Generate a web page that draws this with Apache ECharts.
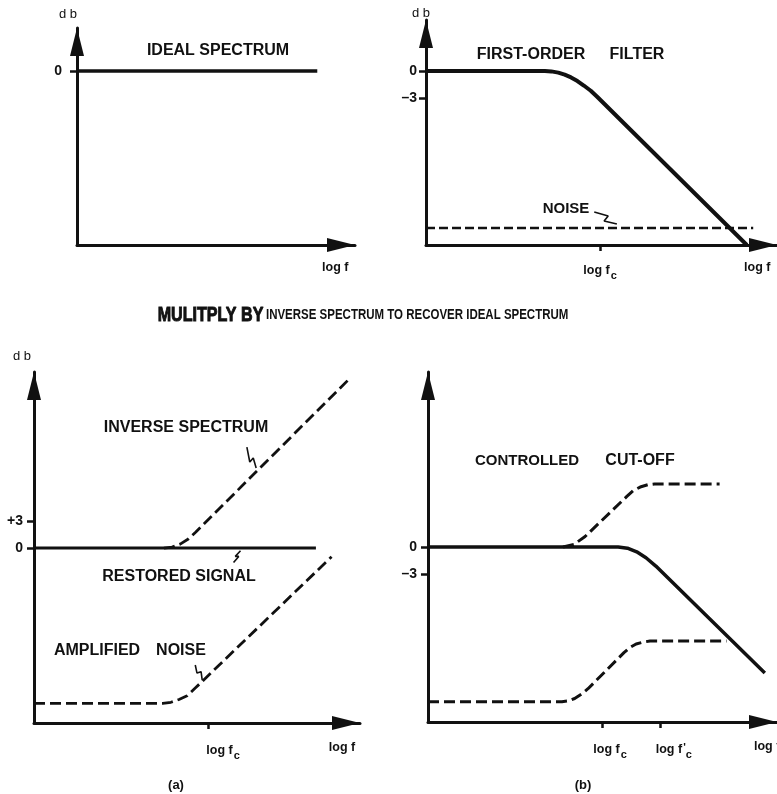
<!DOCTYPE html>
<html>
<head>
<meta charset="utf-8">
<script src="https://cdn.jsdelivr.net/npm/echarts@6/dist/echarts.min.js"></script>
<style>
  html, body { margin: 0; padding: 0; background: #fff; }
  #chart { width: 777px; height: 794px; }
</style>
</head>
<body>
<div id="chart"></div>
<script>
// x: log f (arbitrary decades, log f_c = 3, log f'_c = 4), y: level in dB

// top left: ideal spectrum
const idealSpectrum = [[0, 0], [4.14, 0]];

// top right: first-order filter and noise floor
const firstOrderFilter = [[0, 0], [2.05, 0], [2.16, -0.04], [2.28, -0.18], [2.39, -0.4], [2.5, -0.71],
                          [2.61, -1.11], [2.72, -1.61], [2.84, -2.19], [2.95, -2.86], [5.53, -19.33]];
const filterNoise = [[0, -17.44], [5.64, -17.44]];
const noisePointer = [[2.9, -15.67], [3.14, -16.11], [3.07, -16.67], [3.29, -17.0]];

// bottom left (a): full inverse
const restoredSignal = [[0, 0], [4.86, 0]];
const inverseSpectrum = [[2.24, 0], [2.38, 0.11], [2.52, 0.44], [2.66, 1.0], [2.79, 1.78], [5.45, 18.89]];
const amplifiedNoise = [[0, -17.26], [2.22, -17.26], [2.36, -17.14], [2.5, -16.83], [2.64, -16.41],
                        [2.78, -15.56], [5.13, -0.97]];
const inversePointer = [[3.67, 11.22], [3.72, 9.56], [3.78, 10.0], [3.83, 8.89]];
const restoredPointer = [[3.56, -0.3], [3.47, -0.93], [3.53, -0.93], [3.44, -1.6]];
const amplifiedPointer = [[2.78, -13.0], [2.81, -13.89], [2.88, -13.74], [2.9, -14.67]];

// bottom right (b): controlled cut-off
const controlledFilter = [[0, 0], [3.28, 0], [3.44, -0.13], [3.6, -0.53], [3.76, -1.19], [3.93, -2.12], [5.81, -14.0]];
const controlledInverse = [[2.33, 0], [2.52, 0.29], [2.71, 1.17], [3.43, 5.62], [3.54, 6.27], [3.66, 6.66],
                           [3.79, 6.91], [3.91, 7.0], [5.03, 7.0]];
const controlledNoise = [[0, -17.19], [2.31, -17.19], [2.42, -17.1], [2.53, -16.83], [2.65, -16.33], [2.76, -15.74],
                         [3.38, -11.74], [3.48, -11.18], [3.59, -10.77], [3.71, -10.57], [3.83, -10.44], [5.15, -10.44]];

// tick positions and their labels
const p1YTicks = [0];           const p1YLabels = ['0'];
const p1XLabelVals = [4.45];    const p1XLabels = ['log f'];
const p2YTicks = [0, -3];       const p2YLabels = ['0', '\u20133'];
const p2XTicks = [3];
const p2XLabelVals = [3, 5.71]; const p2XLabels = ['log f{s|c}', 'log f'];
const p3YTicks = [3, 0];        const p3YLabels = ['+3', '0'];
const p3XTicks = [3];
const p3XLabelVals = [3.26, 5.31]; const p3XLabels = ['log f{s|c}', 'log f'];
const p4YTicks = [0, -3];       const p4YLabels = ['0', '\u20133'];
const p4XTicks = [3, 4];
const p4XLabelVals = [3.14, 4.24, 5.85]; const p4XLabels = ['log f{s|c}', "log f{p|'}{t|c}", 'log f'];

const INK = '#111';
const FONT = '"Liberation Sans", Arial, Helvetica, sans-serif';

function pick(values, texts) {
  return function (v) {
    for (let i = 0; i < values.length; i++) {
      if (Math.abs(values[i] - v) < 1e-6) return texts[i];
    }
    return '';
  };
}

const axisLineStyle = {
  show: true, onZero: false,
  lineStyle: { color: INK, width: 3 },
  symbol: ['none', 'triangle'],
  symbolSize: [14, 28],
  symbolOffset: [0, -14]
};

const subRich = {
  s: { fontSize: 11, fontWeight: 'bold', fontFamily: FONT, color: INK, padding: [9, 0, 0, 1] },
  t: { fontSize: 11, fontWeight: 'bold', fontFamily: FONT, color: INK, padding: [9, 0, 0, 0] },
  p: { fontSize: 11, fontWeight: 'bold', fontFamily: FONT, color: INK, padding: [0, 0, 4, 1] }
};

function makeX(gridIndex, max, ticks, labelVals, labelTexts, margin) {
  return {
    type: 'value', gridIndex, min: 0, max,
    splitLine: { show: false },
    axisLine: axisLineStyle,
    axisTick: { show: ticks.length > 0, customValues: ticks.length ? ticks : [0], length: 6,
                lineStyle: { color: INK, width: 2.5 } },
    axisLabel: { show: true, customValues: labelVals, formatter: pick(labelVals, labelTexts),
                 margin, color: INK, fontFamily: FONT, fontWeight: 'bold', fontSize: 12.5, rich: subRich }
  };
}

function makeY(gridIndex, min, max, ticks, labelTexts, margin, name, namePad, nameGap) {
  return {
    type: 'value', gridIndex, min, max,
    splitLine: { show: false },
    axisLine: axisLineStyle,
    axisTick: { show: true, customValues: ticks, length: 7, lineStyle: { color: INK, width: 2.5 } },
    axisLabel: { show: true, customValues: ticks, formatter: pick(ticks, labelTexts),
                 margin, color: INK, fontFamily: FONT, fontWeight: 'bold', fontSize: 14 },
    name: name, nameLocation: 'end', nameGap: nameGap,
    nameTextStyle: { color: INK, fontFamily: FONT, fontSize: 13, padding: namePad }
  };
}

function curve(i, data, dashed, width, dash) {
  return {
    type: 'line', xAxisIndex: i, yAxisIndex: i, data,
    symbol: 'none', showSymbol: false, smooth: false,
    silent: true, animation: false,
    lineStyle: { color: INK, width, type: dashed ? (dash || [11, 5]) : 'solid', cap: 'butt', join: 'round' }
  };
}

function pointer(i, data) {
  return {
    type: 'line', xAxisIndex: i, yAxisIndex: i, data,
    symbol: 'none', showSymbol: false, silent: true, animation: false,
    lineStyle: { color: INK, width: 1.6 }
  };
}

function label(text, x, y, size) {
  return { type: 'text', x, y, silent: true,
           style: { text, fill: INK, fontFamily: FONT, fontWeight: 'bold', fontSize: size || 16,
                    align: 'center', verticalAlign: 'middle' } };
}

const chart = echarts.init(document.getElementById('chart'), null, { renderer: 'canvas' });

chart.setOption({
  backgroundColor: '#fff',
  animation: false,
  grid: [
    { left: 77,  top: 28,  width: 278, height: 217, outerBoundsMode: 'none' },
    { left: 426, top: 20,  width: 351, height: 225, outerBoundsMode: 'none' },
    { left: 34,  top: 372, width: 326, height: 351, outerBoundsMode: 'none' },
    { left: 428, top: 372, width: 349, height: 350, outerBoundsMode: 'none' }
  ],
  xAxis: [
    makeX(0, 4.79, [], p1XLabelVals, p1XLabels, 16),
    makeX(1, 6.05, p2XTicks, p2XLabelVals, p2XLabels, 16),
    makeX(2, 5.62, p3XTicks, p3XLabelVals, p3XLabels, 18),
    makeX(3, 6.02, p4XTicks, p4XLabelVals, p4XLabels, 18)
  ],
  yAxis: [
    makeY(0, -19.33, 4.78, p1YTicks, p1YLabels, 15, 'd b', [0, 18, 0, 0], 7),
    makeY(1, -19.33, 5.67, p2YTicks, p2YLabels, 9, 'd b', [0, 10, 0, 0], 0),
    makeY(2, -19.44, 19.56, p3YTicks, p3YLabels, 11, 'd b', [0, 24, 0, 0], 9),
    makeY(3, -19.44, 19.44, p4YTicks, p4YLabels, 11, '', [0, 0, 0, 0], 0)
  ],
  series: [
    curve(0, idealSpectrum, false, 3.5),
    curve(1, firstOrderFilter, false, 4),
    curve(1, filterNoise, true, 2.5, [9, 4]),
    pointer(1, noisePointer),
    curve(2, restoredSignal, false, 3),
    curve(2, inverseSpectrum, true, 2.8),
    curve(2, amplifiedNoise, true, 2.8),
    pointer(2, inversePointer),
    pointer(2, restoredPointer),
    pointer(2, amplifiedPointer),
    curve(3, controlledFilter, false, 3.5),
    curve(3, controlledInverse, true, 3),
    curve(3, controlledNoise, true, 3)
  ],
  graphic: [
    label('IDEAL SPECTRUM', 218, 51),
    label('FIRST-ORDER', 531, 55),
    label('FILTER', 637, 55),
    label('NOISE', 566, 209, 15),
    {
      type: 'text', x: 363, y: 315, scaleX: 0.766, silent: true,
      style: {
        text: '{a|MULITPLY BY} {b|INVERSE SPECTRUM TO RECOVER IDEAL SPECTRUM}',
        align: 'center', verticalAlign: 'middle',
        rich: {
          a: { fill: INK, stroke: INK, lineWidth: 1, fontFamily: FONT, fontWeight: 'bold', fontSize: 21 },
          b: { fill: INK, fontFamily: FONT, fontWeight: 'bold', fontSize: 15 }
        }
      }
    },
    label('INVERSE SPECTRUM', 186, 428),
    label('RESTORED SIGNAL', 179, 577),
    label('AMPLIFIED', 97, 651),
    label('NOISE', 181, 651),
    label('CONTROLLED', 527, 461, 15),
    label('CUT-OFF', 640, 461),
    label('(a)', 176, 785, 13),
    label('(b)', 583, 785, 13)
  ]
});
</script>
</body>
</html>
